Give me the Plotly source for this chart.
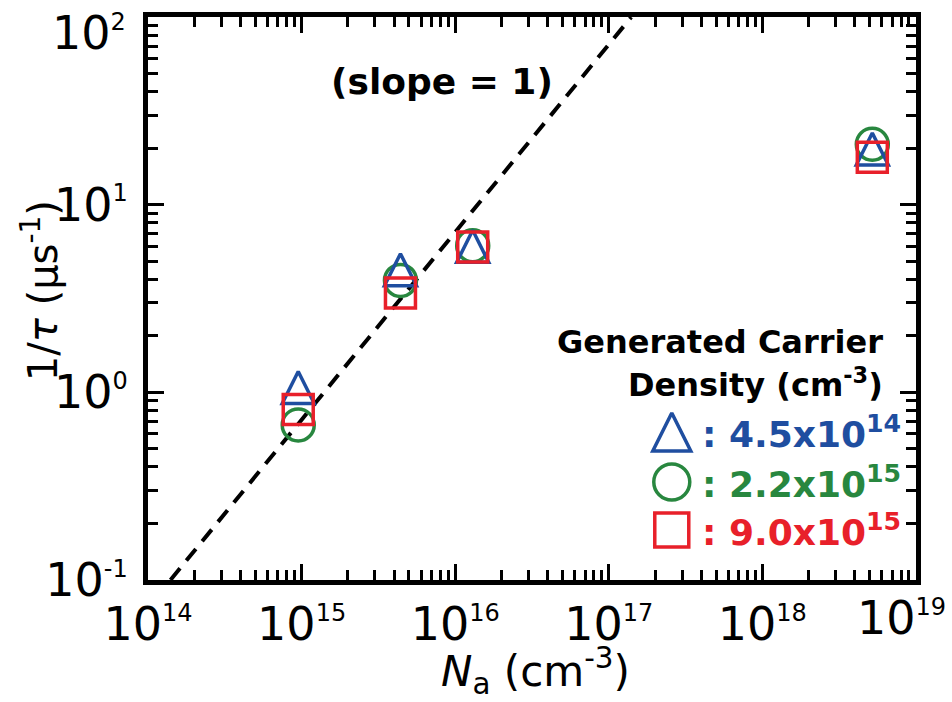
import plotly.graph_objects as go

# ---------------- data ----------------
Na = [9.5e14, 4.4e15, 1.3e16, 5.2e18]                 # cm^-3
inv_tau_tri = [1.06, 4.5, 6.0, 19.8]                   # 4.5x10^14
inv_tau_circ = [0.67, 3.95, 6.05, 21.0]                # 2.2x10^15
inv_tau_sq = [0.81, 3.38, 5.95, 17.9]                  # 9.0x10^15

slope_x = [1.4e14, 1.4e17]
slope_y = [0.1, 100.0]

x_tickvals = [1e14, 1e15, 1e16, 1e17, 1e18, 1e19]
x_exps = ["14", "15", "16", "17", "18", "19"]
y_tickvals = [0.1, 1, 10, 100]
y_exps = ["-1", "0", "1", "2"]

legend_labels = ["4.5x10<sup>14</sup>", "2.2x10<sup>15</sup>", "9.0x10<sup>15</sup>"]

BLUE = "#1f4ea0"
GREEN = "#28873f"
RED = "#e8202a"
FONT = "DejaVu Sans"

def sup_label(e):
    return "10<sup><span style='font-size:24px'>%s</span></sup>" % e

def tick_text(exps):
    # the last label of each axis sits at the figure edge; it is drawn as an
    # annotation nudged inward (as in the reference)
    return [sup_label(e) for e in exps[:-1]] + [""]

def minor_vals(lo, hi):
    vals = []
    for p in range(lo, hi):
        for m in range(2, 10):
            vals.append(m * 10.0 ** p)
    return vals

fig = go.Figure()

fig.add_trace(go.Scatter(
    x=slope_x, y=slope_y, mode="lines",
    line=dict(color="black", width=4, dash="15px,10px"),
    showlegend=False, hoverinfo="skip"))

fig.add_trace(go.Scatter(
    x=Na, y=inv_tau_circ, mode="markers",
    marker=dict(symbol="circle-open", size=32, color=GREEN, line=dict(width=3.5, color=GREEN)),
    showlegend=False, cliponaxis=False))

fig.add_trace(go.Scatter(
    x=Na, y=inv_tau_tri, mode="markers",
    marker=dict(symbol="arrow-down-open", size=32, angle=180, standoff=16,
                color=BLUE, line=dict(width=3.5, color=BLUE)),
    showlegend=False, cliponaxis=False))

fig.add_trace(go.Scatter(
    x=Na, y=inv_tau_sq, mode="markers",
    marker=dict(symbol="square-open", size=30, color=RED, line=dict(width=3.5, color=RED)),
    showlegend=False, cliponaxis=False))

# legend symbols on an overlay axis (0..1 = plot area)
leg_x = [0.682, 0.682, 0.682]
leg_y = [0.263, 0.174, 0.0888]
fig.add_trace(go.Scatter(
    x=[leg_x[0]], y=[leg_y[0]], xaxis="x2", yaxis="y2", mode="markers",
    marker=dict(symbol="arrow-down-open", size=38, angle=180, standoff=19,
                color=BLUE, line=dict(width=3.5, color=BLUE)),
    showlegend=False, hoverinfo="skip", cliponaxis=False))
fig.add_trace(go.Scatter(
    x=[leg_x[1]], y=[leg_y[1]], xaxis="x2", yaxis="y2", mode="markers",
    marker=dict(symbol="circle-open", size=36, color=GREEN, line=dict(width=3.5, color=GREEN)),
    showlegend=False, hoverinfo="skip", cliponaxis=False))
fig.add_trace(go.Scatter(
    x=[leg_x[2]], y=[leg_y[2]], xaxis="x2", yaxis="y2", mode="markers",
    marker=dict(symbol="square-open", size=34, color=RED, line=dict(width=3.5, color=RED)),
    showlegend=False, hoverinfo="skip", cliponaxis=False))

axis_common = dict(
    showline=True, linewidth=5, linecolor="black", mirror="allticks",
    ticks="inside", ticklen=16, tickwidth=3, tickcolor="black",
    showgrid=False, zeroline=False, automargin=False,
    tickfont=dict(family=FONT, size=46, color="black"),
)

fig.update_layout(
    width=952, height=702,
    margin=dict(l=148, r=36, t=17, b=122, autoexpand=False),
    paper_bgcolor="white", plot_bgcolor="white",
    font=dict(family=FONT, color="black"),
    xaxis=dict(type="log", range=[13.9995, 19.0005], tickmode="array",
               tickvals=x_tickvals, ticktext=tick_text(x_exps),
               minor=dict(ticks="inside", ticklen=10, tickwidth=3, tickcolor="black",
                          tickmode="array", tickvals=minor_vals(14, 19)),
               **axis_common),
    yaxis=dict(type="log", range=[-1.0005, 2.0005], tickmode="array",
               tickvals=y_tickvals, ticktext=tick_text(y_exps), ticklabelstandoff=6,
               minor=dict(ticks="inside", ticklen=10, tickwidth=3, tickcolor="black",
                          tickmode="array", tickvals=minor_vals(-1, 2)),
               **axis_common),
    xaxis2=dict(overlaying="x", range=[0, 1], visible=False, fixedrange=True),
    yaxis2=dict(overlaying="y", range=[0, 1], visible=False, fixedrange=True),
)

ann = []
# edge tick labels
ann.append(dict(text=sup_label(x_exps[-1]), x=1.0417, y=-0.0675, xref="paper", yref="paper",
                showarrow=False, font=dict(family=FONT, size=46, color="black"),
                xanchor="right", yanchor="middle"))
ann.append(dict(text=sup_label(y_exps[-1]), x=-0.026, y=0.972, xref="paper", yref="paper",
                showarrow=False, font=dict(family=FONT, size=46, color="black"),
                xanchor="right", yanchor="middle"))

ann.append(dict(text="<b>(slope = 1)</b>", x=0.383, y=0.885, xref="paper", yref="paper",
                showarrow=False, font=dict(family=FONT, size=36, color="black"),
                xanchor="center", yanchor="middle"))
ann.append(dict(text="<b>Generated Carrier</b>", x=0.96, y=0.4227, xref="paper", yref="paper",
                showarrow=False, font=dict(family=FONT, size=32, color="black"),
                xanchor="right", yanchor="middle"))
ann.append(dict(text="<b>Density (cm<sup>-3</sup>)</b>", x=0.96, y=0.35, xref="paper", yref="paper",
                showarrow=False, font=dict(family=FONT, size=32, color="black"),
                xanchor="right", yanchor="middle"))
for lab, yy, col in zip(legend_labels, leg_y, [BLUE, GREEN, RED]):
    ann.append(dict(text="<b>: %s</b>" % lab, x=0.719, y=yy, xref="paper", yref="paper",
                    showarrow=False, font=dict(family=FONT, size=36, color=col),
                    xanchor="left", yanchor="middle"))
ann.append(dict(text="1/<i>τ</i> (μs<sup>-1</sup>)", x=-0.1406, y=0.513, xref="paper", yref="paper",
                showarrow=False, textangle=-90, font=dict(family=FONT, size=40, color="black"),
                xanchor="center", yanchor="middle"))
ann.append(dict(text="<i>N</i><sub>a</sub> (cm<sup>-3</sup>)", x=0.504, y=-0.162, xref="paper", yref="paper",
                showarrow=False, font=dict(family=FONT, size=42, color="black"),
                xanchor="center", yanchor="middle"))
fig.update_layout(annotations=ann)

fig.write_html("out.html")
